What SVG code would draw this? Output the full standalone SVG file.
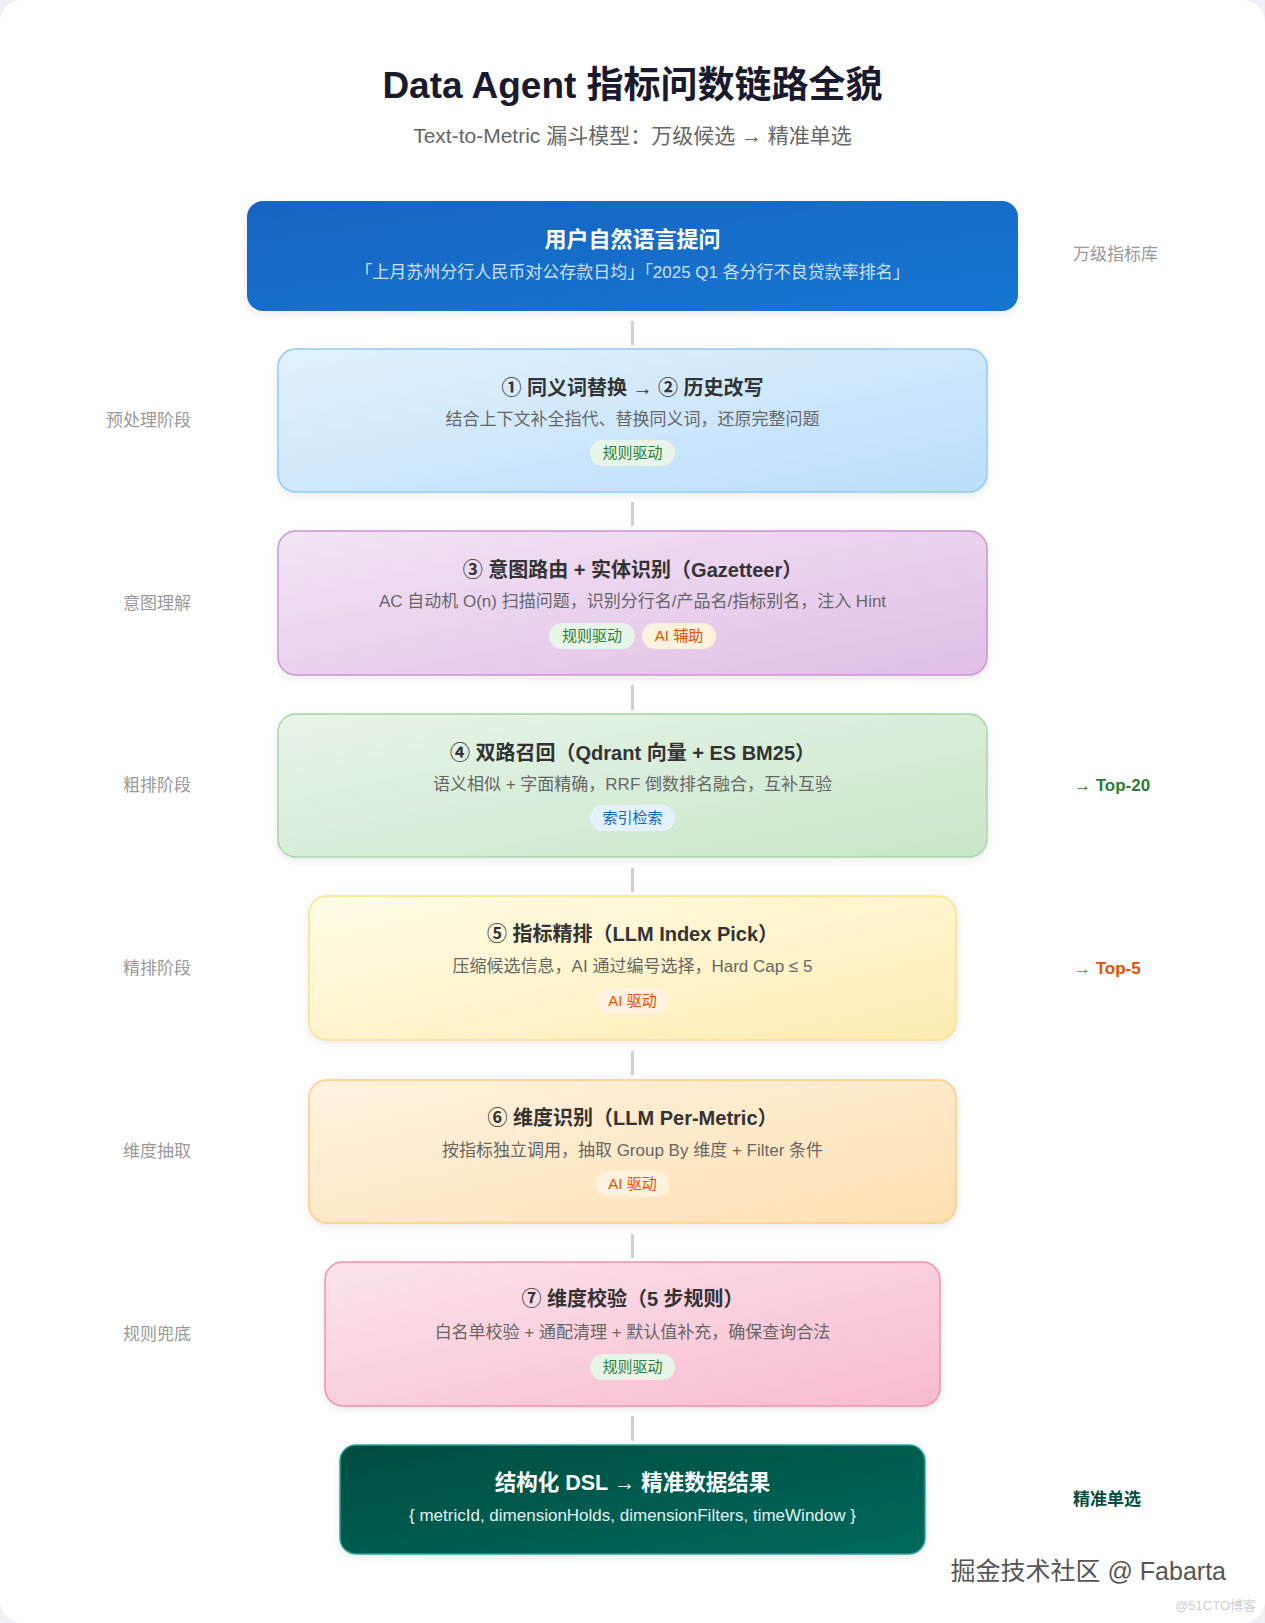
<svg xmlns="http://www.w3.org/2000/svg" width="1265" height="1623" viewBox="0 0 1265 1623">
<defs>
<style>
text{font-family:"Liberation Sans","Noto Sans CJK SC",sans-serif;}
.t{font-size:20px;font-weight:bold;fill:#333;text-anchor:middle;}
.d{font-size:17px;fill:#666;text-anchor:middle;}
.l{font-size:17px;fill:#999;text-anchor:end;}
.bt{font-size:15px;text-anchor:middle;}
.g{fill:#2e7d32;}
.o{fill:#e65100;}
.b{fill:#1565c0;}
.conn{stroke:#cfcfcf;stroke-width:3;}
</style>
<linearGradient id="gTop" x1="0" y1="0" x2="1" y2="1"><stop offset="0" stop-color="#1565c0"/><stop offset="1" stop-color="#1976d2"/></linearGradient>
<linearGradient id="gBlue" x1="0" y1="0" x2="1" y2="1"><stop offset="0" stop-color="#e3f2fd"/><stop offset="1" stop-color="#bbdefb"/></linearGradient>
<linearGradient id="gPur" x1="0" y1="0" x2="1" y2="1"><stop offset="0" stop-color="#f3e5f5"/><stop offset="1" stop-color="#e1bee7"/></linearGradient>
<linearGradient id="gGrn" x1="0" y1="0" x2="1" y2="1"><stop offset="0" stop-color="#e8f5e9"/><stop offset="1" stop-color="#c8e6c9"/></linearGradient>
<linearGradient id="gYel" x1="0" y1="0" x2="1" y2="1"><stop offset="0" stop-color="#fffde7"/><stop offset="1" stop-color="#ffecb3"/></linearGradient>
<linearGradient id="gOrg" x1="0" y1="0" x2="1" y2="1"><stop offset="0" stop-color="#fff3e0"/><stop offset="1" stop-color="#ffe0b2"/></linearGradient>
<linearGradient id="gPnk" x1="0" y1="0" x2="1" y2="1"><stop offset="0" stop-color="#fce4ec"/><stop offset="1" stop-color="#f8bbd0"/></linearGradient>
<linearGradient id="gDk" x1="0" y1="0" x2="1" y2="1"><stop offset="0" stop-color="#004d40"/><stop offset="1" stop-color="#00695c"/></linearGradient>
<filter id="sh" x="-5%" y="-10%" width="110%" height="130%"><feDropShadow dx="0" dy="3" stdDeviation="4" flood-color="#000" flood-opacity="0.08"/></filter>
</defs>
<rect x="0" y="0" width="1265" height="1623" fill="#eef0f3"/>
<rect x="0" y="0" width="1265" height="1623" rx="22" fill="#ffffff"/>
<text x="632.5" y="98" text-anchor="middle" font-size="37" font-weight="bold" fill="#1a1a2e">Data Agent 指标问数链路全貌</text>
<text x="632.5" y="143" text-anchor="middle" font-size="21" fill="#666">Text-to-Metric 漏斗模型：万级候选 → 精准单选</text>

<g id="connectors">
<line class="conn" x1="632.5" y1="321" x2="632.5" y2="345"/>
<line class="conn" x1="632.5" y1="502" x2="632.5" y2="526"/>
<line class="conn" x1="632.5" y1="685" x2="632.5" y2="710"/>
<line class="conn" x1="632.5" y1="868" x2="632.5" y2="892"/>
<line class="conn" x1="632.5" y1="1051" x2="632.5" y2="1075"/>
<line class="conn" x1="632.5" y1="1234" x2="632.5" y2="1258"/>
<line class="conn" x1="632.5" y1="1416" x2="632.5" y2="1441"/>
</g>

<g id="n-input">
<rect x="247" y="201" width="771" height="110" rx="16" fill="url(#gTop)" filter="url(#sh)"/>
<text x="632.5" y="247" text-anchor="middle" font-size="22" font-weight="bold" fill="#fff">用户自然语言提问</text>
<text x="632.5" y="278" text-anchor="middle" font-size="17" fill="#e3f2fd" fill-opacity="0.9">「上月苏州分行人民币对公存款日均」「2025 Q1 各分行不良贷款率排名」</text>
<text x="1073" y="260" font-size="17" fill="#999">万级指标库</text>
</g>

<g id="n-pre">
<rect x="278" y="349" width="709" height="143" rx="18" fill="url(#gBlue)" stroke="#90caf9" stroke-width="1.5" filter="url(#sh)"/>
<text class="t" x="632.5" y="395">① 同义词替换 → ② 历史改写</text>
<text class="d" x="632.5" y="425">结合上下文补全指代、替换同义词，还原完整问题</text>
<rect x="590" y="440" width="85" height="26" rx="13" fill="#e8f5e9"/>
<text class="bt g" x="632.5" y="458">规则驱动</text>
<text class="l" x="191" y="426">预处理阶段</text>
</g>

<g id="n-intent">
<rect x="278" y="531" width="709" height="144" rx="18" fill="url(#gPur)" stroke="#ce93d8" stroke-width="1.5" filter="url(#sh)"/>
<text class="t" x="632.5" y="577">③ 意图路由 + 实体识别（Gazetteer）</text>
<text class="d" x="632.5" y="607">AC 自动机 O(n) 扫描问题，识别分行名/产品名/指标别名，注入 Hint</text>
<rect x="549" y="623" width="86" height="26" rx="13" fill="#e8f5e9"/>
<text class="bt g" x="592" y="641">规则驱动</text>
<rect x="642" y="623" width="74" height="26" rx="13" fill="#fff3e0"/>
<text class="bt o" x="679" y="641">AI 辅助</text>
<text class="l" x="191" y="609">意图理解</text>
</g>

<g id="n-recall">
<rect x="278" y="714" width="709" height="143" rx="18" fill="url(#gGrn)" stroke="#a5d6a7" stroke-width="1.5" filter="url(#sh)"/>
<text class="t" x="632.5" y="760">④ 双路召回（Qdrant 向量 + ES BM25）</text>
<text class="d" x="632.5" y="790">语义相似 + 字面精确，RRF 倒数排名融合，互补互验</text>
<rect x="590" y="805" width="85" height="26" rx="13" fill="#e3f2fd"/>
<text class="bt b" x="632.5" y="823">索引检索</text>
<text class="l" x="191" y="791">粗排阶段</text>
<text x="1074" y="791" font-size="17" font-weight="bold" fill="#2e7d32">→ Top-20</text>
</g>

<g id="n-rank">
<rect x="309" y="896" width="647" height="144" rx="18" fill="url(#gYel)" stroke="#ffe082" stroke-width="1.5" filter="url(#sh)"/>
<text class="t" x="632.5" y="941">⑤ 指标精排（LLM Index Pick）</text>
<text class="d" x="632.5" y="972">压缩候选信息，AI 通过编号选择，Hard Cap ≤ 5</text>
<rect x="596" y="988" width="73" height="26" rx="13" fill="#fff3e0"/>
<text class="bt o" x="632.5" y="1006">AI 驱动</text>
<text class="l" x="191" y="974">精排阶段</text>
<text x="1074" y="974" font-size="17" font-weight="bold" fill="#e65100">→ Top-5</text>
</g>

<g id="n-dim">
<rect x="309" y="1080" width="647" height="143" rx="18" fill="url(#gOrg)" stroke="#ffcc80" stroke-width="1.5" filter="url(#sh)"/>
<text class="t" x="632.5" y="1125">⑥ 维度识别（LLM Per-Metric）</text>
<text class="d" x="632.5" y="1156">按指标独立调用，抽取 Group By 维度 + Filter 条件</text>
<rect x="596" y="1171" width="73" height="26" rx="13" fill="#fff3e0"/>
<text class="bt o" x="632.5" y="1189">AI 驱动</text>
<text class="l" x="191" y="1157">维度抽取</text>
</g>

<g id="n-check">
<rect x="325" y="1262" width="615" height="144" rx="18" fill="url(#gPnk)" stroke="#f48fb1" stroke-width="1.5" filter="url(#sh)"/>
<text class="t" x="632.5" y="1306">⑦ 维度校验（5 步规则）</text>
<text class="d" x="632.5" y="1338">白名单校验 + 通配清理 + 默认值补充，确保查询合法</text>
<rect x="590" y="1354" width="85" height="26" rx="13" fill="#e8f5e9"/>
<text class="bt g" x="632.5" y="1372">规则驱动</text>
<text class="l" x="191" y="1340">规则兜底</text>
</g>

<g id="n-out">
<rect x="340" y="1445" width="585" height="109" rx="16" fill="url(#gDk)" stroke="#26a69a" stroke-width="1.5" filter="url(#sh)"/>
<text x="632.5" y="1490" text-anchor="middle" font-size="21.5" font-weight="bold" fill="#fff">结构化 DSL → 精准数据结果</text>
<text x="632.5" y="1521" text-anchor="middle" font-size="17" fill="#e0f2f1">{ metricId, dimensionHolds, dimensionFilters, timeWindow }</text>
<text x="1073" y="1505" font-size="17" font-weight="bold" fill="#004d40">精准单选</text>
</g>

<text x="1226" y="1580" text-anchor="end" font-size="25" fill="#555" stroke="#fff" stroke-width="3" paint-order="stroke">掘金技术社区 @ Fabarta</text>
<text x="1256" y="1610" text-anchor="end" font-size="13" fill="#cfcfcf">@51CTO博客</text>
</svg>
